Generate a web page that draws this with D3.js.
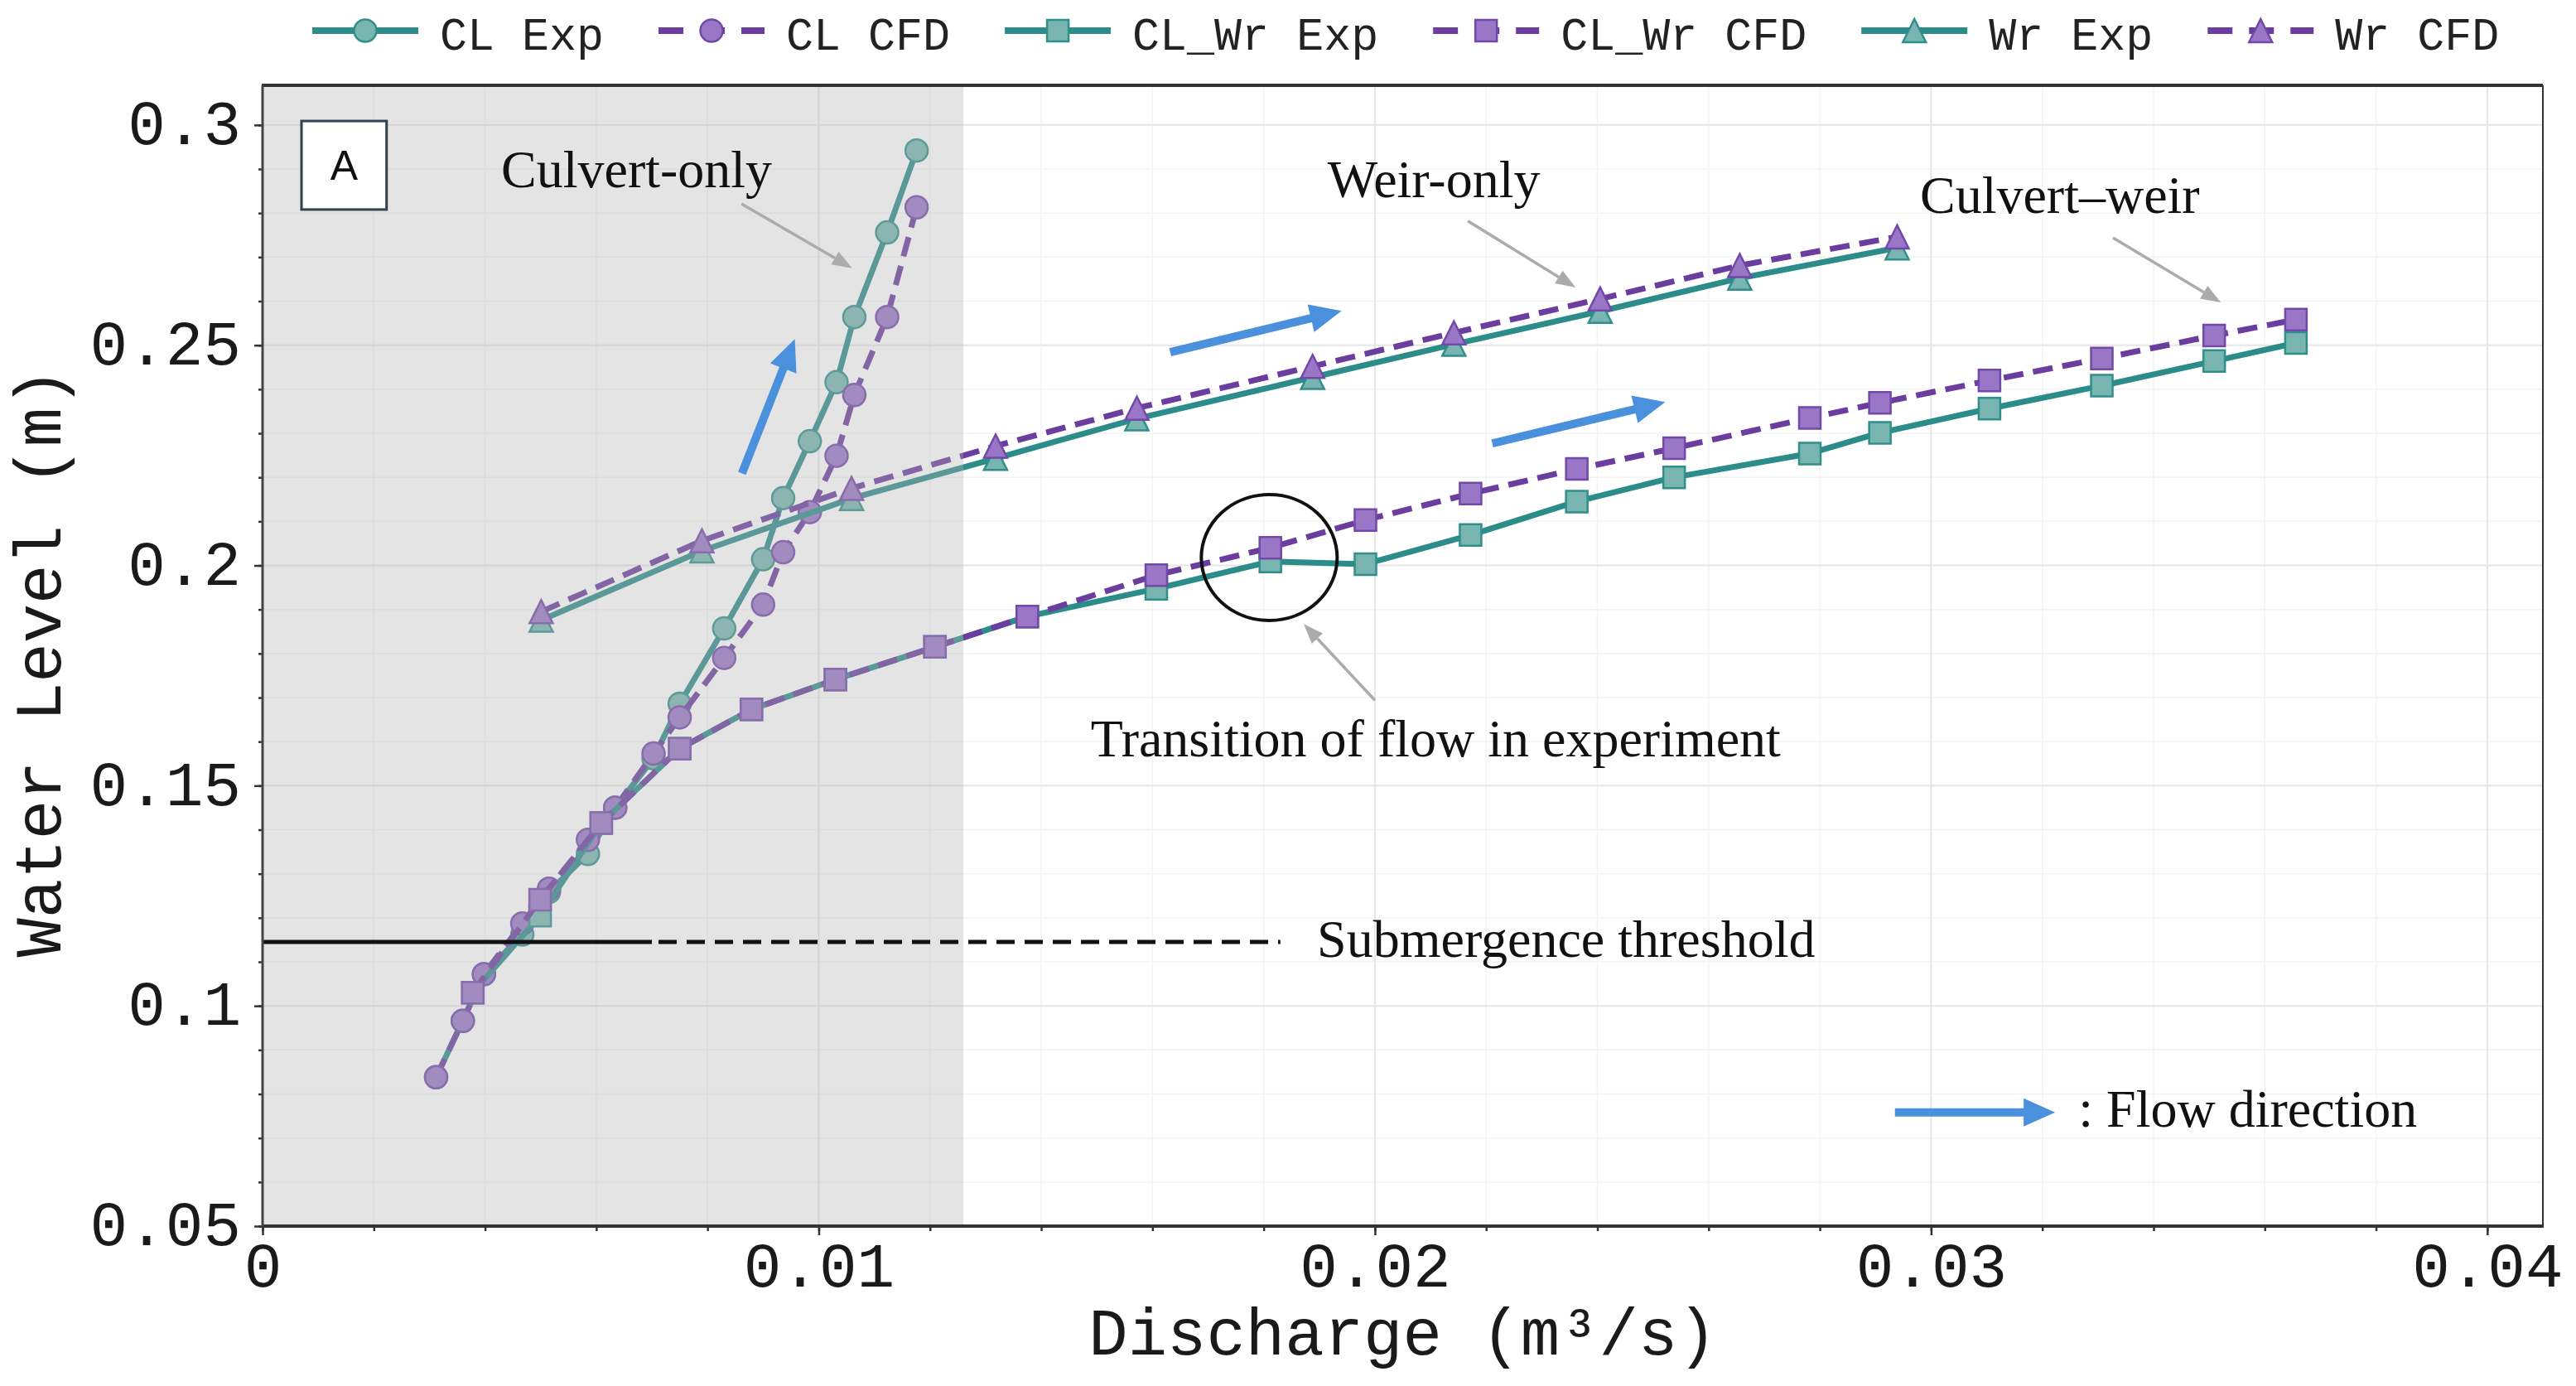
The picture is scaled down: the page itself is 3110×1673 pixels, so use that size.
<!DOCTYPE html>
<html>
<head>
<meta charset="utf-8">
<script src="https://cdn.jsdelivr.net/npm/d3@7"></script>
<style>
  html, body { margin: 0; padding: 0; background: #fff; }
  svg { display: block; }
</style>
</head>
<body>
<div id="chart"></div>
<script>
// Water level vs discharge - culvert, weir and culvert-weir runs
(function () {
  ///////////////////////////////////////////////////////////// ! Data
  // Culvert-only (CL)
  const clQ = [0.00312, 0.0036, 0.00398, 0.00467, 0.00515, 0.00585, 0.00634, 0.00703, 0.0075,
    0.0083, 0.009, 0.00936, 0.00984, 0.01032, 0.01064, 0.01123, 0.01176];
  const clExp = [0.0838, 0.0966, 0.1072, 0.1162, 0.1259, 0.1345, 0.145, 0.1562, 0.1686,
    0.1857, 0.2014, 0.2153, 0.2282, 0.2416, 0.2564, 0.2756, 0.2942];
  const clCfd = [0.0838, 0.0966, 0.1072, 0.1187, 0.1266, 0.1377, 0.145, 0.1573, 0.1655,
    0.179, 0.1911, 0.203, 0.2121, 0.2249, 0.2387, 0.2564, 0.2813];

  // Culvert-weir (CL_Wr)
  const clwrQ = [0.00378, 0.00499, 0.00609, 0.0075, 0.00879, 0.0103, 0.01209, 0.01375, 0.01607,
    0.01812, 0.01983, 0.02172, 0.02363, 0.02538, 0.02782, 0.02908, 0.03105, 0.03307, 0.03509, 0.03656];
  const clwrExp = [0.103, 0.1205, 0.1415, 0.1584, 0.1673, 0.1741, 0.1815, 0.1884, 0.1947,
    0.2009, 0.2003, 0.2069, 0.2145, 0.22, 0.2254, 0.2301, 0.2356, 0.2408, 0.2464, 0.2505];
  const clwrCfd = [0.103, 0.1241, 0.1415, 0.1584, 0.1673, 0.1741, 0.1815, 0.1884, 0.1978,
    0.204, 0.2103, 0.2163, 0.2219, 0.2266, 0.2335, 0.2369, 0.242, 0.247, 0.2522, 0.2558];

  // Weir-only (Wr)
  const wrQ = [0.00501, 0.0079, 0.01059, 0.01318, 0.01572, 0.01888, 0.02142, 0.02405, 0.02656, 0.02939];
  const wrExp = [0.1876, 0.2033, 0.2152, 0.2243, 0.2333, 0.2427, 0.2502, 0.2577, 0.2652, 0.2721];
  const wrCfd = [0.1895, 0.2056, 0.2175, 0.2271, 0.2357, 0.2452, 0.2528, 0.2605, 0.2681, 0.2746];

  // Axis ticks
  const xTicks = [0, 0.01, 0.02, 0.03, 0.04];
  const xTickLabels = ["0", "0.01", "0.02", "0.03", "0.04"];
  const yTicks = [0.05, 0.1, 0.15, 0.2, 0.25, 0.3];
  const yTickLabels = ["0.05", "0.1", "0.15", "0.2", "0.25", "0.3"];

  // Shaded culvert-only region and submergence threshold
  const shadeQ = [0, 0.0126];
  const thresholdLevel = 0.1145;
  const thresholdQ = [0, 0.0070, 0.0183];

  ///////////////////////////////////////////////////////////// ! Setup
  const W = 3110, H = 1673;
  const plot = { left: 317, right: 3070, top: 103, bottom: 1480 };

  const mono = "'Liberation Mono', 'Courier New', monospace";
  const serif = "'Liberation Serif', 'Times New Roman', serif";

  const teal = { line: "#2b8c89", fill: "#78b5b0", edge: "#2f8f8b" };
  const purple = { line: "#6a3d9e", fill: "#9a77c6", edge: "#7248a8" };

  const svg = d3.select("#chart").append("svg")
    .attr("width", W).attr("height", H);

  const x = d3.scaleLinear().domain([0, 0.041]).range([plot.left, plot.right]);
  const y = d3.scaleLinear().domain([0.05, 0.309]).range([plot.bottom, plot.top]);

  ///////////////////////////////////////////////////////////// ! Grid
  const grid = svg.append("g");
  const xMinor = d3.range(0, 0.0411, 0.002);
  const yMinor = d3.range(0.05, 0.3091, 0.01);

  grid.selectAll(".vminor").data(xMinor).enter().append("line")
    .attr("x1", (d) => x(d)).attr("x2", (d) => x(d))
    .attr("y1", plot.top).attr("y2", plot.bottom)
    .attr("stroke", "#f3f3f3").attr("stroke-width", 1.5);
  grid.selectAll(".hminor").data(yMinor).enter().append("line")
    .attr("y1", (d) => y(d)).attr("y2", (d) => y(d))
    .attr("x1", plot.left).attr("x2", plot.right)
    .attr("stroke", "#f3f3f3").attr("stroke-width", 1.5);
  grid.selectAll(".vmajor").data(xTicks).enter().append("line")
    .attr("x1", (d) => x(d)).attr("x2", (d) => x(d))
    .attr("y1", plot.top).attr("y2", plot.bottom)
    .attr("stroke", "#e6e6e6").attr("stroke-width", 2);
  grid.selectAll(".hmajor").data(yTicks).enter().append("line")
    .attr("y1", (d) => y(d)).attr("y2", (d) => y(d))
    .attr("x1", plot.left).attr("x2", plot.right)
    .attr("stroke", "#e6e6e6").attr("stroke-width", 2);

  ///////////////////////////////////////////////////////////// ! Series
  function markerPath(shape, s) {
    const h = s / 2;
    if (shape === "circle") {
      return `M${-h},0A${h},${h} 0 1,0 ${h},0A${h},${h} 0 1,0 ${-h},0Z`;
    }
    if (shape === "square") {
      return `M${-h},${-h}H${h}V${h}H${-h}Z`;
    }
    return `M0,${-h}L${h},${h}L${-h},${h}Z`; // triangle up
  }

  const series = [
    { name: "CL Exp", q: clQ, v: clExp, col: teal, dash: null, shape: "circle", size: 27 },
    { name: "CL CFD", q: clQ, v: clCfd, col: purple, dash: "24 12", shape: "circle", size: 27 },
    { name: "CL_Wr Exp", q: clwrQ, v: clwrExp, col: teal, dash: null, shape: "square", size: 26 },
    { name: "CL_Wr CFD", q: clwrQ, v: clwrCfd, col: purple, dash: "24 12", shape: "square", size: 26 },
    { name: "Wr Exp", q: wrQ, v: wrExp, col: teal, dash: null, shape: "triangle", size: 28 },
    { name: "Wr CFD", q: wrQ, v: wrCfd, col: purple, dash: "24 12", shape: "triangle", size: 28 },
  ];

  const line = d3.line().x((d) => x(d[0])).y((d) => y(d[1]));
  const dataG = svg.append("g");

  series.forEach((s) => {
    const pts = s.q.map((q, i) => [q, s.v[i]]);
    dataG.append("path")
      .attr("d", line(pts))
      .attr("fill", "none")
      .attr("stroke", s.col.line)
      .attr("stroke-width", 7)
      .attr("stroke-linejoin", "round")
      .attr("stroke-dasharray", s.dash);
    dataG.selectAll(null).data(pts).enter().append("path")
      .attr("transform", (d) => `translate(${x(d[0])},${y(d[1])})`)
      .attr("d", markerPath(s.shape, s.size))
      .attr("fill", s.col.fill)
      .attr("stroke", s.col.edge)
      .attr("stroke-width", 2.5);
  });

  ///////////////////////////////////////////////////////////// ! Culvert-only shading (drawn over data)
  svg.append("rect")
    .attr("x", x(shadeQ[0]))
    .attr("y", plot.top)
    .attr("width", x(shadeQ[1]) - x(shadeQ[0]))
    .attr("height", plot.bottom - plot.top)
    .attr("fill", "rgb(178,178,178)")
    .attr("opacity", 0.35);

  ///////////////////////////////////////////////////////////// ! Submergence threshold
  svg.append("line")
    .attr("x1", x(thresholdQ[0])).attr("x2", x(thresholdQ[1]))
    .attr("y1", y(thresholdLevel)).attr("y2", y(thresholdLevel))
    .attr("stroke", "#111").attr("stroke-width", 5);
  svg.append("line")
    .attr("x1", x(thresholdQ[1]) + 8).attr("x2", x(thresholdQ[2]))
    .attr("y1", y(thresholdLevel)).attr("y2", y(thresholdLevel))
    .attr("stroke", "#111").attr("stroke-width", 5)
    .attr("stroke-dasharray", "22 12");

  ///////////////////////////////////////////////////////////// ! Axes
  const xAxis = svg.append("g")
    .attr("transform", `translate(0,${plot.bottom})`)
    .call(d3.axisBottom(x).tickValues(xMinor).tickSize(6).tickFormat(""));
  const xAxisMajor = svg.append("g")
    .attr("transform", `translate(0,${plot.bottom})`)
    .call(d3.axisBottom(x).tickValues(xTicks).tickSize(11)
      .tickFormat((d, i) => xTickLabels[i]).tickPadding(10));
  const yAxis = svg.append("g")
    .attr("transform", `translate(${plot.left},0)`)
    .call(d3.axisLeft(y).tickValues(yMinor).tickSize(5).tickFormat(""));
  const yAxisMajor = svg.append("g")
    .attr("transform", `translate(${plot.left},0)`)
    .call(d3.axisLeft(y).tickValues(yTicks).tickSize(10)
      .tickFormat((d, i) => yTickLabels[i]).tickPadding(16));

  [xAxis, xAxisMajor, yAxis, yAxisMajor].forEach((g) => {
    g.select(".domain").remove();
    g.selectAll(".tick line").attr("stroke", "#333").attr("stroke-width", 2.5);
  });
  xAxisMajor.selectAll(".tick text")
    .attr("font-family", mono).attr("font-size", 76).attr("fill", "#1a1a1a")
    .attr("dy", "0.68em");
  yAxisMajor.selectAll(".tick text")
    .attr("font-family", mono).attr("font-size", 76).attr("fill", "#1a1a1a")
    .attr("dy", "0.3em");

  // Frame
  svg.append("line").attr("x1", plot.left - 1).attr("x2", plot.right)
    .attr("y1", plot.top).attr("y2", plot.top)
    .attr("stroke", "#333").attr("stroke-width", 4);
  svg.append("line").attr("x1", plot.left - 1).attr("x2", plot.right + 1)
    .attr("y1", plot.bottom).attr("y2", plot.bottom)
    .attr("stroke", "#333").attr("stroke-width", 4);
  svg.append("line").attr("x1", plot.left).attr("x2", plot.left)
    .attr("y1", plot.top).attr("y2", plot.bottom)
    .attr("stroke", "#444").attr("stroke-width", 3);
  svg.append("line").attr("x1", plot.right).attr("x2", plot.right)
    .attr("y1", plot.top).attr("y2", plot.bottom)
    .attr("stroke", "#333").attr("stroke-width", 2);

  // Axis labels
  svg.append("text")
    .attr("x", (plot.left + plot.right) / 2)
    .attr("y", 1635)
    .attr("text-anchor", "middle")
    .attr("font-family", mono).attr("font-size", 79).attr("fill", "#1a1a1a")
    .text("Discharge (m³/s)");
  svg.append("text")
    .attr("transform", "translate(73,800) rotate(-90)")
    .attr("text-anchor", "middle")
    .attr("font-family", mono).attr("font-size", 79).attr("fill", "#1a1a1a")
    .text("Water Level (m)");

  ///////////////////////////////////////////////////////////// ! Annotations
  const ann = svg.append("g");

  function grayArrow(q1, v1, q2, v2) {
    const x1 = x(q1), y1 = y(v1), x2 = x(q2), y2 = y(v2);
    const a = Math.atan2(y2 - y1, x2 - x1);
    const L = 24, w = 9;
    const bx = x2 - L * Math.cos(a), by = y2 - L * Math.sin(a);
    ann.append("line")
      .attr("x1", x1).attr("y1", y1).attr("x2", bx).attr("y2", by)
      .attr("stroke", "#ababab").attr("stroke-width", 3.5);
    ann.append("path")
      .attr("d", `M${x2},${y2}L${bx + w * Math.sin(a)},${by - w * Math.cos(a)}` +
        `L${bx - w * Math.sin(a)},${by + w * Math.cos(a)}Z`)
      .attr("fill", "#ababab");
  }

  function blueArrow(q1, v1, q2, v2) {
    const x1 = x(q1), y1 = y(v1), x2 = x(q2), y2 = y(v2);
    const a = Math.atan2(y2 - y1, x2 - x1);
    const L = 38, w = 17;
    const bx = x2 - L * Math.cos(a), by = y2 - L * Math.sin(a);
    ann.append("line")
      .attr("x1", x1).attr("y1", y1).attr("x2", bx + 2 * Math.cos(a)).attr("y2", by + 2 * Math.sin(a))
      .attr("stroke", "#4a90dc").attr("stroke-width", 10);
    ann.append("path")
      .attr("d", `M${x2},${y2}L${bx + w * Math.sin(a)},${by - w * Math.cos(a)}` +
        `L${bx - w * Math.sin(a)},${by + w * Math.cos(a)}Z`)
      .attr("fill", "#4a90dc");
  }

  function label(q, v, txt) {
    ann.append("text")
      .attr("x", x(q)).attr("y", y(v))
      .attr("font-family", serif).attr("font-size", 64).attr("fill", "#111")
      .text(txt);
  }

  label(0.00429, 0.2858, "Culvert-only");
  label(0.01915, 0.2836, "Weir-only");
  label(0.0298, 0.2800, "Culvert\u2013weir");
  label(0.01489, 0.1566, "Transition of flow in experiment");
  label(0.01896, 0.1111, "Submergence threshold");
  label(0.03265, 0.07266, ": Flow direction");

  grayArrow(0.00861, 0.2821, 0.0106, 0.2675);
  grayArrow(0.02167, 0.2782, 0.02361, 0.2631);
  grayArrow(0.03327, 0.2744, 0.03521, 0.2597);
  grayArrow(0.0200, 0.1694, 0.01872, 0.1867);

  blueArrow(0.00862, 0.2209, 0.00957, 0.2514);
  blueArrow(0.01632, 0.2484, 0.0194, 0.2578);
  blueArrow(0.02211, 0.2277, 0.02522, 0.2371);
  blueArrow(0.02935, 0.0758, 0.03223, 0.0758);

  // Transition ellipse
  ann.append("ellipse")
    .attr("cx", x(0.0181)).attr("cy", y(0.2018))
    .attr("rx", 82).attr("ry", 76)
    .attr("fill", "none").attr("stroke", "#111").attr("stroke-width", 4);

  // Panel tag
  const tagG = ann.append("g");
  tagG.append("rect")
    .attr("x", x(0.0007)).attr("y", y(0.3009))
    .attr("width", x(0.00223) - x(0.0007)).attr("height", y(0.2808) - y(0.3009))
    .attr("fill", "#fff").attr("stroke", "#2f4250").attr("stroke-width", 3);
  tagG.append("text")
    .attr("x", (x(0.0007) + x(0.00223)) / 2).attr("y", (y(0.3009) + y(0.2808)) / 2)
    .attr("dy", "0.35em").attr("text-anchor", "middle")
    .attr("font-family", "'Liberation Sans', Arial, sans-serif").attr("font-size", 50)
    .attr("fill", "#111").text("A");

  ///////////////////////////////////////////////////////////// ! Legend
  const legend = svg.append("g").attr("transform", "translate(0,37)");
  let cursor = 377;
  series.forEach((s) => {
    const g = legend.append("g").attr("transform", `translate(${cursor},0)`);
    g.append("line")
      .attr("x1", 0).attr("x2", 128).attr("y1", 0).attr("y2", 0)
      .attr("stroke", s.col.line).attr("stroke-width", 8)
      .attr("stroke-dasharray", s.dash ? "30 20" : null);
    g.append("path")
      .attr("transform", "translate(64,0)")
      .attr("d", markerPath(s.shape, s.size))
      .attr("fill", s.col.fill).attr("stroke", s.col.edge).attr("stroke-width", 2.5);
    const t = g.append("text")
      .attr("x", 154).attr("y", 23)
      .attr("font-family", mono).attr("font-size", 55).attr("fill", "#222")
      .text(s.name);
    cursor += 154 + t.node().getComputedTextLength() + 66;
  });
})();
</script>
</body>
</html>
